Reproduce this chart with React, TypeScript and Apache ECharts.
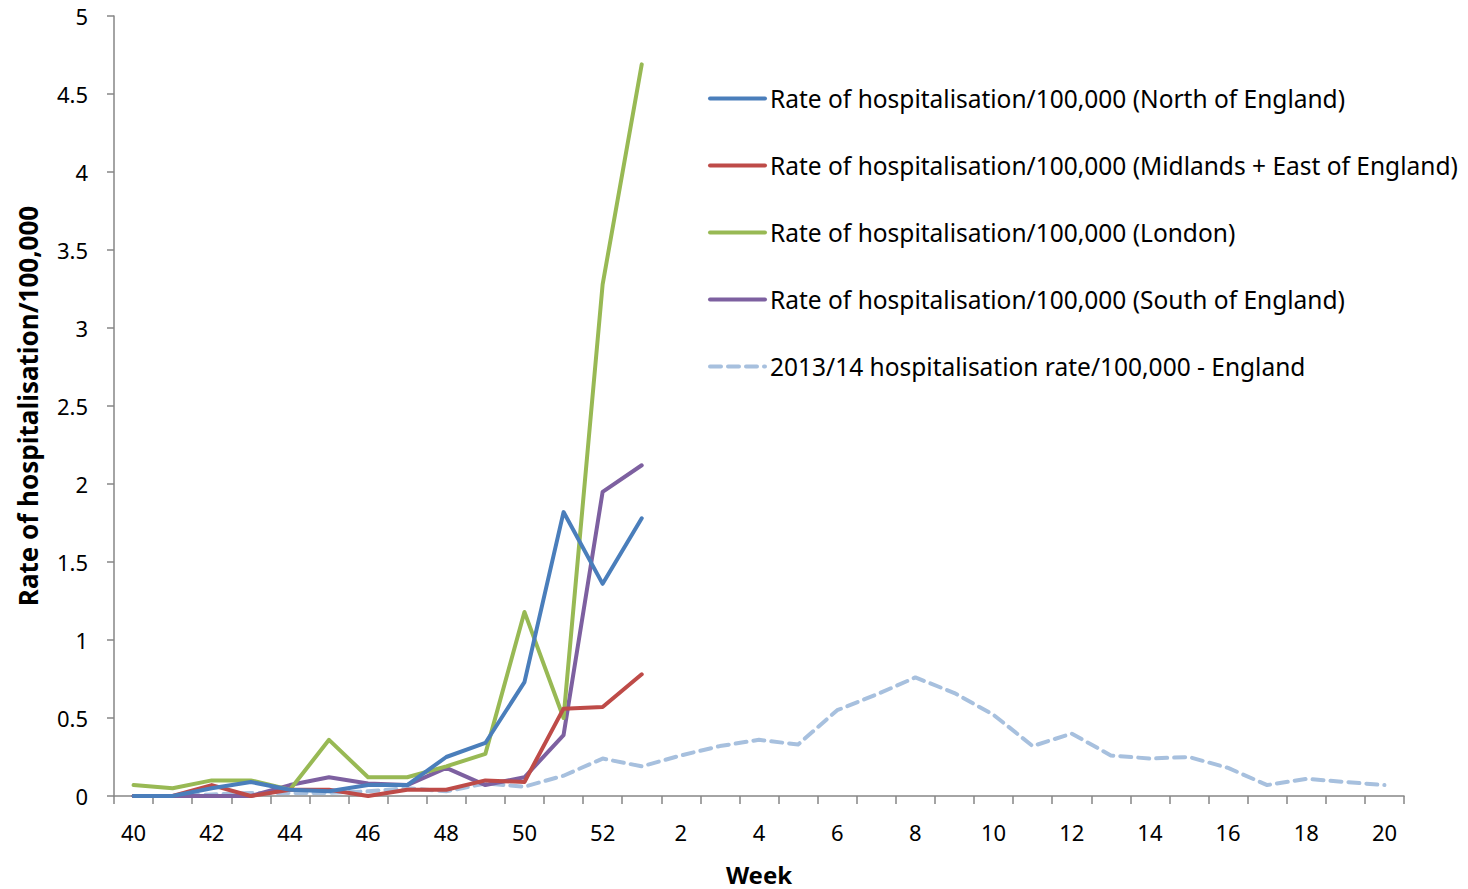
import React, { useEffect, useRef } from "react";
import * as echarts from "echarts";

const weeks = ["40","41","42","43","44","45","46","47","48","49","50","51","52","1","2","3","4","5","6","7","8","9","10","11","12","13","14","15","16","17","18","19","20"];

const north = [0.0, 0.0, 0.05, 0.09, 0.04, 0.03, 0.07, 0.07, 0.25, 0.34, 0.73, 1.82, 1.36, 1.78];
const midlands = [0.0, 0.0, 0.07, 0.0, 0.04, 0.04, 0.0, 0.04, 0.04, 0.1, 0.09, 0.56, 0.57, 0.78];
const london = [0.07, 0.05, 0.1, 0.1, 0.04, 0.36, 0.12, 0.12, 0.19, 0.27, 1.18, 0.5, 3.28, 4.69];
const south = [0.0, 0.0, 0.0, 0.0, 0.07, 0.12, 0.08, 0.07, 0.18, 0.07, 0.12, 0.39, 1.95, 2.12];
const england1314 = [0.0, 0.0, 0.01, 0.02, 0.02, 0.02, 0.03, 0.05, 0.03, 0.08, 0.06, 0.13, 0.24, 0.19, 0.26, 0.32, 0.36, 0.33, 0.55, 0.65, 0.76, 0.66, 0.52, 0.32, 0.4, 0.26, 0.24, 0.25, 0.18, 0.07, 0.11, 0.09, 0.07];

const seriesNames = [
  "Rate of hospitalisation/100,000 (North of England)",
  "Rate of hospitalisation/100,000 (Midlands + East of England)",
  "Rate of hospitalisation/100,000 (London)",
  "Rate of hospitalisation/100,000 (South of England)",
  "2013/14 hospitalisation rate/100,000 - England",
];
const colors = ["#4A7EBB", "#BE4B48", "#98B954", "#7D60A0", "#A7C0DE"];

const FONT = "'Noto Sans', sans-serif";

export default function App() {
  const ref = useRef<HTMLDivElement>(null);
  useEffect(() => {
    if (!ref.current) return;
    const chart = echarts.init(ref.current, undefined, { renderer: "svg" });
    const data = [north, midlands, london, south, england1314];
    chart.setOption({
      animation: false,
      backgroundColor: "#ffffff",
      grid: { left: 114, right: 64, top: 16, bottom: 93, containLabel: false, outerBoundsMode: "none" },
      legend: {
        orient: "vertical",
        left: 703,
        top: 81,
        itemWidth: 55,
        itemHeight: 14,
        itemGap: 42,
        itemStyle: { opacity: 0 },
        lineStyle: { width: 4 },
        textStyle: { fontFamily: FONT, fontSize: 24.5, color: "#000" },
        data: seriesNames,
      },
      xAxis: {
        type: "category",
        data: weeks,
        boundaryGap: true,
        name: "Week",
        nameLocation: "middle",
        nameGap: 66,
        nameTextStyle: { fontFamily: FONT, fontSize: 24, fontWeight: "bold", color: "#000" },
        axisLine: { lineStyle: { color: "#868686", width: 1.5 } },
        axisTick: { show: true, interval: 0, length: 8, lineStyle: { color: "#868686", width: 1.5 } },
        axisLabel: { interval: 1, margin: 25, fontFamily: FONT, fontSize: 22, color: "#000" },
        splitLine: { show: false },
      },
      yAxis: {
        type: "value",
        min: 0,
        max: 5,
        interval: 0.5,
        name: "Rate of hospitalisation/100,000",
        nameLocation: "middle",
        nameGap: 73,
        nameTextStyle: { fontFamily: FONT, fontSize: 26, fontWeight: "bold", color: "#000" },
        axisLine: { show: true, lineStyle: { color: "#868686", width: 1.5 } },
        axisTick: { show: true, length: 7, lineStyle: { color: "#868686", width: 1.5 } },
        axisLabel: { margin: 26, fontFamily: FONT, fontSize: 22, color: "#000" },
        splitLine: { show: false },
      },
      series: seriesNames.map((n, i) => ({
        name: n,
        type: "line",
        data: data[i],
        symbol: "none",
        showSymbol: false,
        z: i === 4 ? 1 : 5 - i,
        itemStyle: { color: colors[i] },
        lineStyle: {
          color: colors[i],
          width: 4,
          type: i === 4 ? [11, 7] : "solid",
          cap: "round",
          join: "round",
        },
      })),
    });
    return () => chart.dispose();
  }, []);
  return (
    <div
      ref={ref}
      style={{ position: "fixed", left: 0, top: 0, width: 1468, height: 889 }}
    />
  );
}
